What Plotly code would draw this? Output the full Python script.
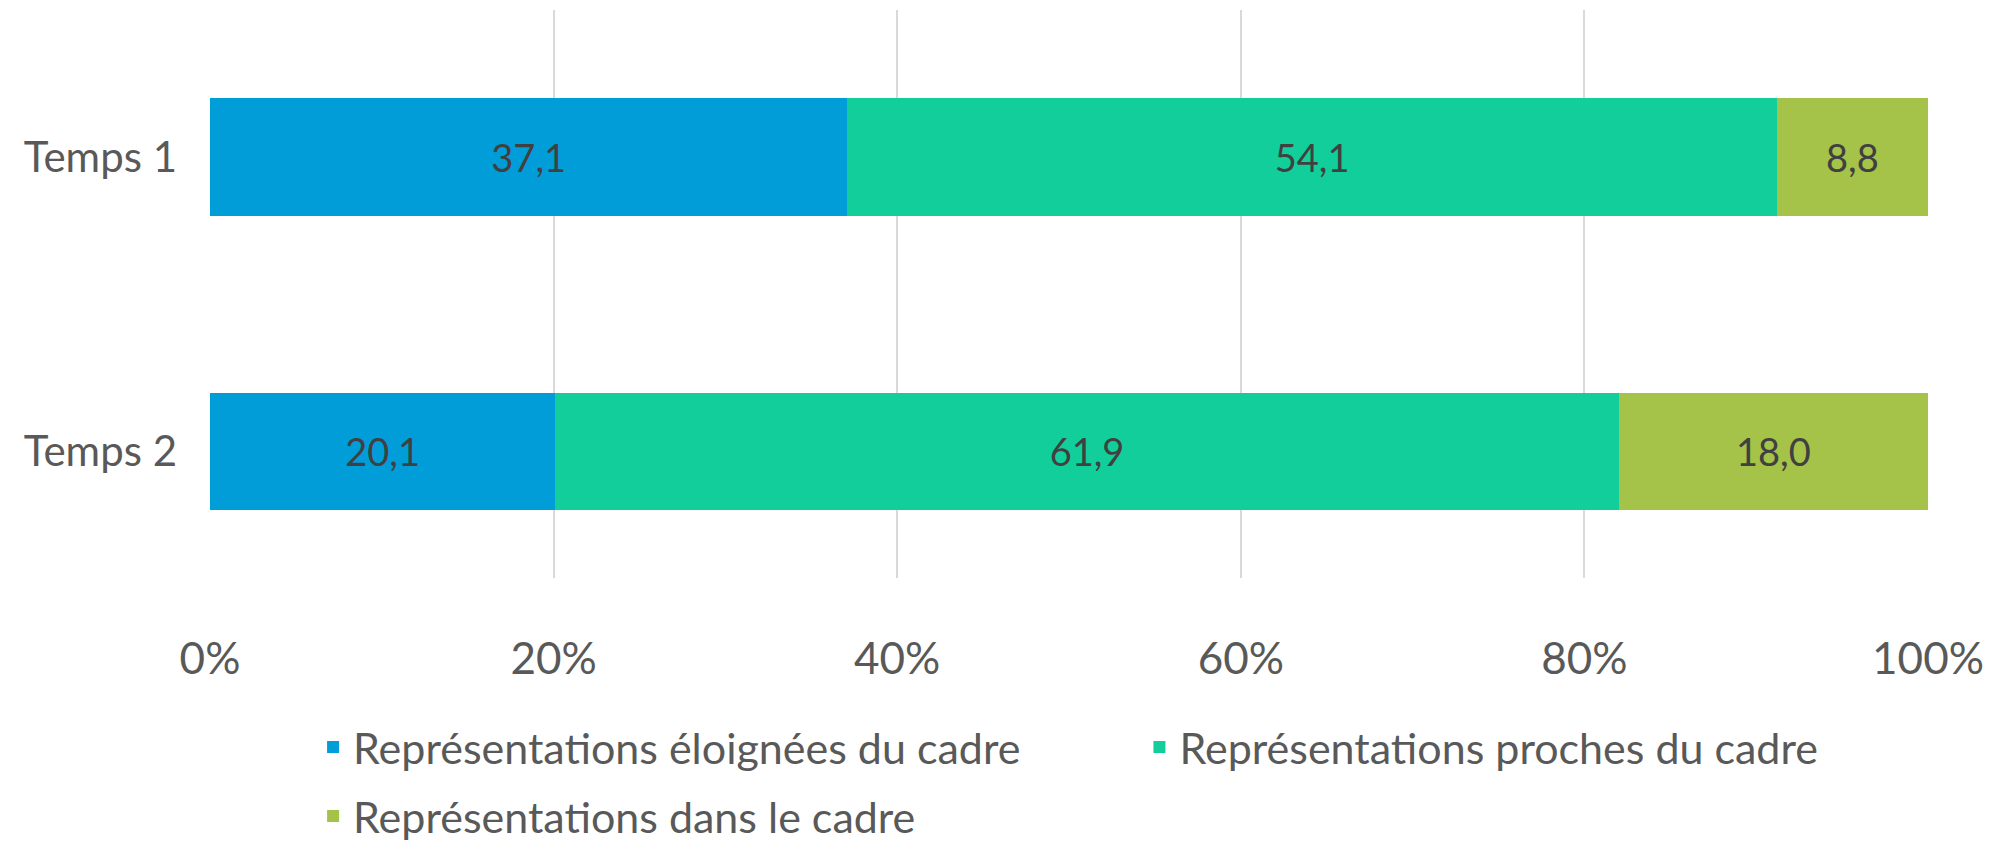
import plotly.graph_objects as go

categories = ["Temps 1", "Temps 2"]
series_names = [
    "Représentations éloignées du cadre",
    "Représentations proches du cadre",
    "Représentations dans le cadre",
]
eloignees = [37.1, 20.1]
proches = [54.1, 61.9]
dans = [8.8, 18.0]
tick_vals = [0, 20, 40, 60, 80, 100]
tick_text = ["0%", "20%", "40%", "60%", "80%", "100%"]

colors = ["#009DD9", "#12CE9B", "#A5C249"]
FONT = "Lato, 'Open Sans', 'DejaVu Sans', sans-serif"
label_color = "#595959"

fig = go.Figure()
values = [eloignees, proches, dans]
legends = ["legend", "legend2", "legend3"]
for name, vals, col, lg in zip(series_names, values, colors, legends):
    fig.add_trace(go.Bar(
        y=categories, x=vals, name=name, orientation="h",
        marker=dict(color=col, line=dict(width=0)),
        width=0.4,
        text=[f"{v:.1f}".replace(".", ",") for v in vals],
        textposition="inside", insidetextanchor="middle",
        textfont=dict(family=FONT, size=38, color="#404040"),
        constraintext="none",
        hoverinfo="skip",
        legend=lg,
    ))

def leg(x, y):
    return dict(
        orientation="h", x=x, y=y, xanchor="left", yanchor="middle",
        xref="paper", yref="paper",
        font=dict(family=FONT, size=43, color=label_color),
        itemclick=False, itemdoubleclick=False,
        bgcolor="rgba(0,0,0,0)", borderwidth=0,
    )

fig.update_layout(
    barmode="stack",
    width=1993, height=846,
    margin=dict(l=202, r=73, t=2, b=276, autoexpand=False),
    paper_bgcolor="white", plot_bgcolor="white",
    font=dict(family=FONT, color=label_color),
    showlegend=True,
    legend=leg(0.060, -0.2975),
    legend2=leg(0.541, -0.2975),
    legend3=leg(0.060, -0.419),
    xaxis=dict(
        range=[0, 100], tickvals=tick_vals, ticktext=tick_text,
        showgrid=True, gridcolor="#D9D9D9", gridwidth=1.5,
        zeroline=False, showline=False,
        tickfont=dict(family=FONT, size=44, color=label_color),
        ticks="", ticklabelstandoff=51, automargin=False,
        fixedrange=True,
    ),
    yaxis=dict(
        categoryorder="array", categoryarray=categories,
        range=[1.43, -0.5],
        showgrid=False, zeroline=False, showline=False,
        tickfont=dict(family=FONT, size=42, color=label_color),
        ticks="", ticklabelstandoff=32, automargin=False,
        fixedrange=True,
    ),
)

fig.write_html("out.html", config={"displayModeBar": False})
